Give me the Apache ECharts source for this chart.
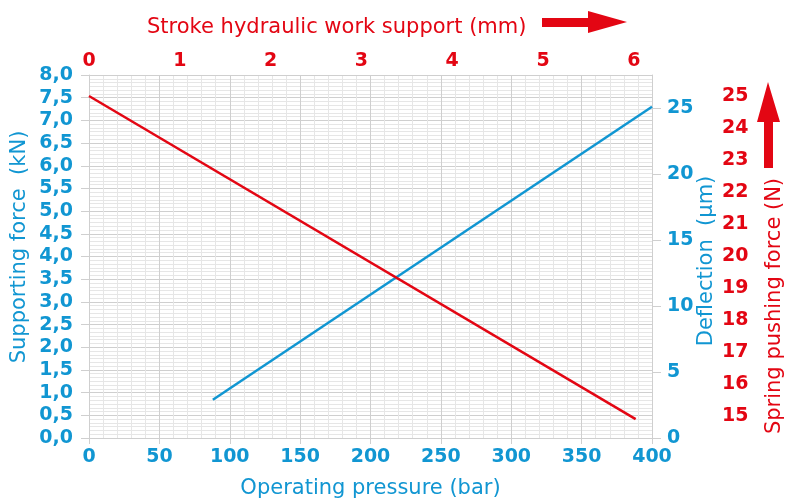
<!DOCTYPE html>
<html>
<head>
<meta charset="utf-8">
<script src="https://cdn.jsdelivr.net/npm/echarts@6/dist/echarts.min.js"></script>
<style>html,body{margin:0;padding:0;background:#fff}#c{width:798px;height:499px}</style>
</head>
<body>
<div id="c"></div>
<script>
// ---- data ----
const pressureTicks = [0, 50, 100, 150, 200, 250, 300, 350, 400];
const strokeTicks = [0, 1, 2, 3, 4, 5, 6];
const forceTicks = [0, 0.5, 1, 1.5, 2, 2.5, 3, 3.5, 4, 4.5, 5, 5.5, 6, 6.5, 7, 7.5, 8];
const deflectionTicks = [0, 5, 10, 15, 20, 25];
const springTicks = [15, 16, 17, 18, 19, 20, 21, 22, 23, 24, 25];
// blue line: deflection (µm) vs operating pressure (bar)
const bluePressure = [88, 400];
const blueDeflection = [2.9, 25.1];
// red line: spring pushing force (N) vs stroke (mm)
const redStroke = [0, 6.02];
const redSpring = [25, 14.9];

const BLUE = '#1196d2';
const RED = '#e30613';
const GRID_MAJOR = '#cfcfcf';
const GRID_MINOR = '#e6e6e6';
const FONT = '"DejaVu Sans"';

const chart = echarts.init(document.getElementById('c'), null, {renderer: 'canvas'});
const labelBold = (color) => ({color: color, fontFamily: FONT, fontWeight: 'bold', fontSize: 19});

chart.setOption({
  animation: false,
  backgroundColor: '#fff',
  grid: {left: 89, right: 146, top: 75, bottom: 61, containLabel: false, outerBoundsMode: 'none'},
  title: {
    text: 'Stroke hydraulic work support (mm)',
    left: 147, top: 17, padding: 0,
    textStyle: {color: RED, fontFamily: FONT, fontWeight: 'normal', fontSize: 21}
  },
  xAxis: [
    {
      type: 'value', position: 'bottom',
      min: pressureTicks[0], max: pressureTicks[pressureTicks.length - 1], interval: 50,
      name: 'Operating pressure (bar)', nameLocation: 'middle', nameGap: 40,
      nameTextStyle: {color: BLUE, fontFamily: FONT, fontSize: 21},
      axisLine: {show: true, onZero: false, lineStyle: {color: GRID_MAJOR, width: 1}},
      axisTick: {show: true, length: 6, lineStyle: {color: GRID_MAJOR}},
      axisLabel: Object.assign({margin: 10}, labelBold(BLUE)),
      splitLine: {show: true, lineStyle: {color: GRID_MAJOR, width: 1}},
      minorTick: {show: false, splitNumber: 5},
      minorSplitLine: {show: true, lineStyle: {color: GRID_MINOR, width: 1}}
    },
    {
      type: 'value', position: 'top',
      min: strokeTicks[0], max: 6.2, interval: 1,
      axisLine: {show: true, onZero: false, lineStyle: {color: GRID_MAJOR, width: 1}},
      axisTick: {show: false},
      axisLabel: Object.assign({margin: 4, showMaxLabel: false}, labelBold(RED)),
      splitLine: {show: false}
    }
  ],
  yAxis: [
    {
      type: 'value', position: 'left',
      min: forceTicks[0], max: forceTicks[forceTicks.length - 1], interval: 0.5,
      axisLine: {show: true, onZero: false, lineStyle: {color: GRID_MAJOR, width: 1}},
      axisTick: {show: true, length: 8, lineStyle: {color: GRID_MAJOR}},
      axisLabel: Object.assign({margin: 16, formatter: v => v.toFixed(1).replace('.', ',')}, labelBold(BLUE)),
      splitLine: {show: true, lineStyle: {color: GRID_MAJOR, width: 1}},
      minorTick: {show: false, splitNumber: 6},
      minorSplitLine: {show: true, lineStyle: {color: GRID_MINOR, width: 1}}
    },
    {
      type: 'value', position: 'right',
      min: deflectionTicks[0], max: 27.5, interval: 5,
      axisLine: {show: true, onZero: false, lineStyle: {color: GRID_MAJOR, width: 1}},
      axisTick: {show: true, length: 9, lineStyle: {color: GRID_MAJOR}},
      axisLabel: Object.assign({margin: 15, showMaxLabel: false}, labelBold(BLUE)),
      splitLine: {show: false}
    },
    {
      type: 'value', position: 'right', offset: 62,
      min: 14.3125, max: 25.656,
      axisLine: {show: false, onZero: false},
      axisTick: {show: false},
      axisLabel: Object.assign({margin: 8, customValues: springTicks}, labelBold(RED)),
      splitLine: {show: false}
    }
  ],
  graphic: [
    {type: 'text', x: 20, y: 247, rotation: Math.PI / 2,
      style: {text: 'Supporting force  (kN)', fill: BLUE, font: '21px ' + FONT, align: 'center', verticalAlign: 'middle'}},
    {type: 'text', x: 707, y: 261, rotation: Math.PI / 2,
      style: {text: 'Deflection  (µm)', fill: BLUE, font: '21px ' + FONT, align: 'center', verticalAlign: 'middle'}},
    {type: 'text', x: 775, y: 306, rotation: Math.PI / 2,
      style: {text: 'Spring pushing force (N)', fill: RED, font: '21px ' + FONT, align: 'center', verticalAlign: 'middle'}},
    {type: 'polygon', shape: {points: [[542, 18], [588, 18], [588, 11], [627, 22], [588, 33], [588, 27], [542, 27]]}, style: {fill: RED}},
    {type: 'polygon', shape: {points: [[764, 168], [764, 122], [757, 122], [768, 82], [780, 122], [773, 122], [773, 168]]}, style: {fill: RED}}
  ],
  series: [
    {
      type: 'line', xAxisIndex: 0, yAxisIndex: 1, symbol: 'none',
      lineStyle: {color: BLUE, width: 2.5},
      data: bluePressure.map((p, i) => [p, blueDeflection[i]])
    },
    {
      type: 'line', xAxisIndex: 1, yAxisIndex: 2, symbol: 'none',
      lineStyle: {color: RED, width: 2.5},
      data: redStroke.map((s, i) => [s, redSpring[i]])
    }
  ]
});
</script>
</body>
</html>
